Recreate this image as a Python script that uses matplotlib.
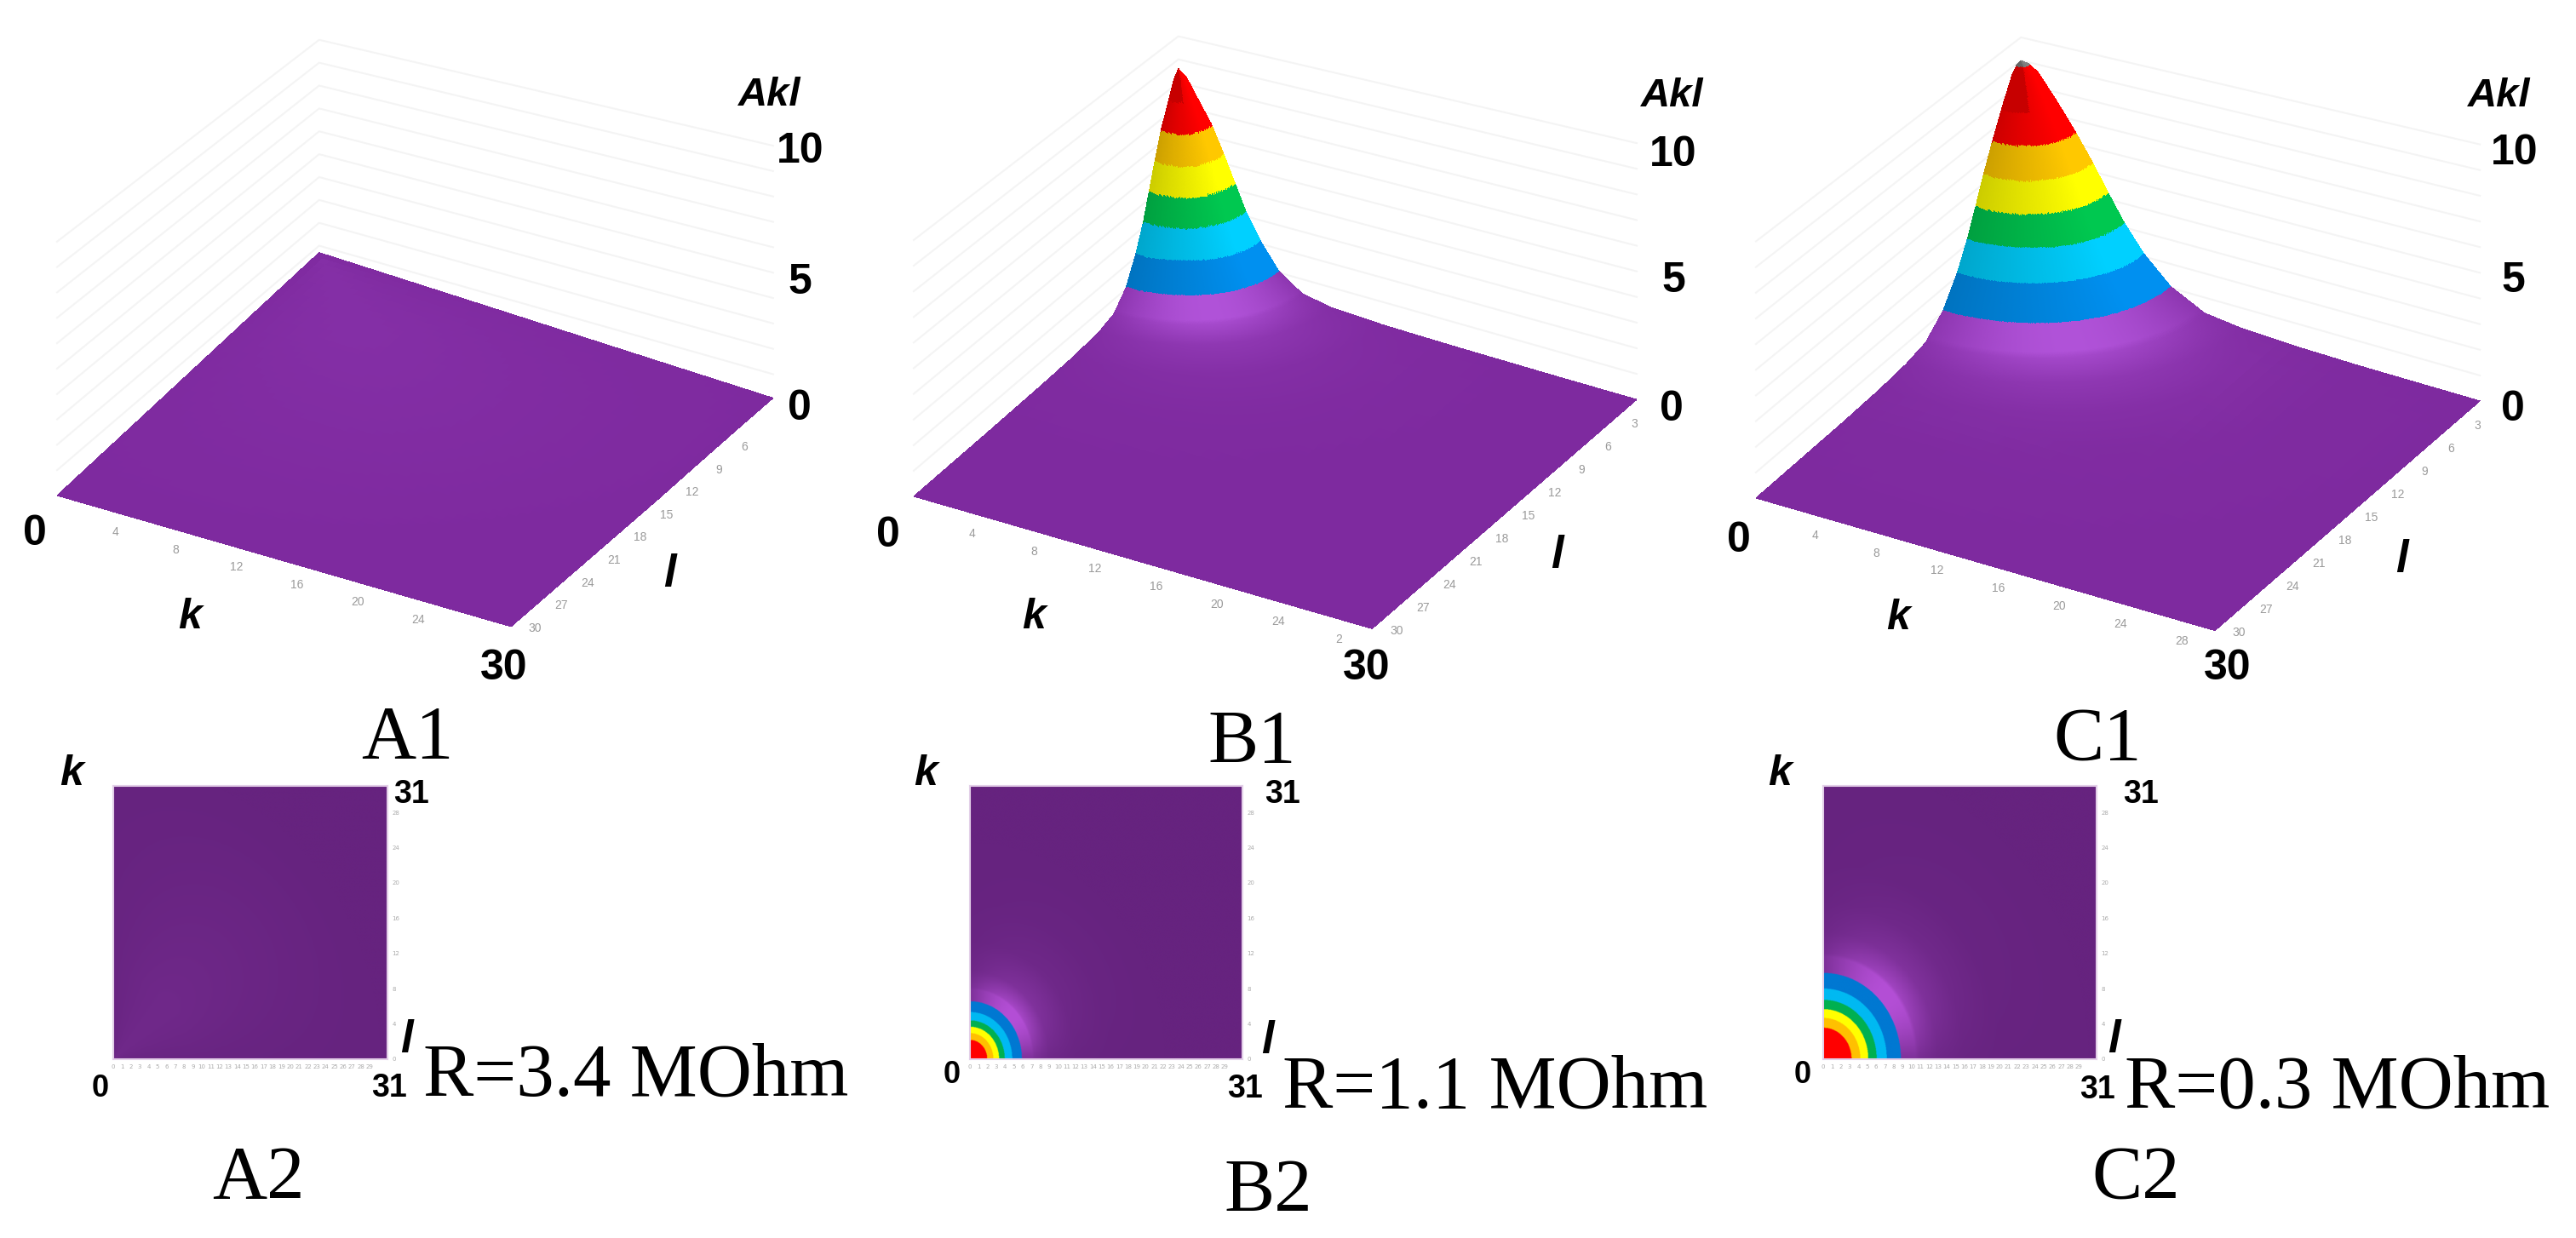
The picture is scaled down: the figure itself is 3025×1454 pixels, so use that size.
#!/usr/bin/env python
"""
Akl surfaces and top views for three resistance values
"""
import numpy as np
import matplotlib
matplotlib.use('Agg')
import matplotlib.pyplot as plt
from matplotlib.colors import to_rgb
from mpl_toolkits.mplot3d import proj3d

W, H = 3025, 1454
SANS = 'Liberation Sans'
SERIF = 'Liberation Serif'

# radial profile of Akl (radius in cells, height in Akl)
radius_a = [0, 10, 20, 30, 45]
height_a = [0.70, 0.47, 0.23, 0.0, 0.0]
radius_b = [0, 0.5, 1, 1.95, 2.65, 3.3, 3.95, 4.8, 5.9, 7.3, 9, 12, 16, 22, 45]
height_b = [8.6, 8.3, 7.7, 6.6, 5.5, 4.4, 3.3, 2.2, 1.1, 0.40, 0.17, 0.06, 0.02, 0.0, 0.0]
radius_c = [0, 0.5, 1, 2, 3.2, 4.2, 5.1, 6.05, 7.2, 8.8, 10.8, 13, 16, 20, 30, 45]
height_c = [9.0, 8.95, 8.7, 7.8, 6.6, 5.5, 4.4, 3.3, 2.2, 1.1, 0.37, 0.17, 0.07, 0.02, 0.0, 0.0]

# colour bands, lowest first
band_levels = [1.1, 2.2, 3.3, 4.4, 5.5, 6.6, 8.93]
colors_surface = ['#0090f0', '#00d0ff', '#00c850', '#ffff00', '#ffc800', '#ff0000', '#808080']
colors_top = ['#0078d2', '#00b9f2', '#00b050', '#ffff00', '#ffc000', '#ff0000', '#ff0000']

panel_top = ['A1', 'B1', 'C1']
panel_bottom = ['A2', 'B2', 'C2']
resistance = ['R=3.4 MOhm', 'R=1.1 MOhm', 'R=0.3 MOhm']
halo_strength = [0.12, 1.0, 1.0]

k_ticks = [['4', '8', '12', '16', '20', '24', ''], ['4', '8', '12', '16', '20', '24', '2'],
           ['4', '8', '12', '16', '20', '24', '28']]
k_tick_pos = [4, 8, 12, 16, 20, 24, 28]
l_ticks = [[6, 9, 12, 15, 18, 21, 24, 27, 30],
           [3, 6, 9, 12, 15, 18, 21, 24, 27, 30],
           [3, 6, 9, 12, 15, 18, 21, 24, 27, 30]]
wall_levels = [1, 2, 3, 4, 5, 6, 7, 8, 9, 10]


def label(fig, x, y, s, size, family=SANS, **kw):
    fig.text(x / W, 1 - y / H, s, fontsize=size, family=family,
             ha='center', va='center', **kw)


def surface(l, k, radius, height):
    r = np.sqrt(l ** 2 + (0.9 * k) ** 2)
    return np.interp(r, radius, height)


def diagonal(l, k):
    """0 along the plate edges through the peak, 1 on the diagonal"""
    return 2 * l * k / np.maximum(l ** 2 + k ** 2, 1e-6)


def paint(z, l, k, base, halo, strength, palette):
    """Band colours by height, purple gets lighter close to the blue ring"""
    base = np.array(to_rgb(base))
    halo = np.array(to_rgb(halo))
    t = np.clip(z / 0.5, 0, 1) * strength * (0.3 + 0.7 * diagonal(l, k))
    rgb = base + t[..., None] * (halo - base)
    for i in range(len(band_levels)):
        rgb[z >= band_levels[i]] = to_rgb(palette[i])
    return rgb


def scene_px(ax, l, k, z=0):
    x, y, _ = proj3d.proj_transform(l, k, z, ax.get_proj())
    return ax.transData.transform((x, y))


def place_scene(ax, left, right):
    """Move and scale the 3D axes so the plate corners land on left / right"""
    left = np.array([left[0], H - left[1]], float)
    right = np.array([right[0], H - right[1]], float)
    size = 1200.0
    ax.set_position([0.2, 0.1, size / W, size / H])
    a = scene_px(ax, 30, 0)
    b = scene_px(ax, 0, 30)
    size *= np.linalg.norm(right - left) / np.linalg.norm(b - a)
    ax.set_position([0.2, 0.1, size / W, size / H])
    a = scene_px(ax, 30, 0)
    x0 = 0.2 * W + left[0] - a[0]
    y0 = 0.1 * H + left[1] - a[1]
    ax.set_position([x0 / W, y0 / H, size / W, size / H])


def draw_scene(fig, i, radius, height, left, right):
    ax = fig.add_axes([0, 0, 0.5, 0.5], projection='3d', computed_zorder=False)
    ax.set_proj_type('ortho')
    ax.view_init(elev=30, azim=30)
    ax.set_box_aspect((1, 1, 0.504))
    ax.set_xlim(0, 30)
    ax.set_ylim(0, 30)
    ax.set_zlim(0, 10)
    ax.set_axis_off()
    ax.patch.set_alpha(0)
    place_scene(ax, left, right)

    # back walls, the lines open up a bit towards the plate corners
    for z in wall_levels:
        ax.plot([30, 0, 0], [0, 0, 30], [1.11 * z, z, 1.11 * z], color='#f4f4f4', lw=1.5, zorder=1)

    # fine near the peak, coarse on the flat part
    if i == 0:
        grid = np.arange(0, 30.5, 0.5)
    else:
        grid = np.concatenate([np.arange(0, 11, 0.05), np.arange(11, 16, 0.1), np.arange(16, 30.5, 1.0)])
    L, K = np.meshgrid(grid, grid)
    z_grid = surface(L, K, radius, height)
    rgb = paint(z_grid, L, K, '#7e2a9f', '#b052d8', halo_strength[i], colors_surface)

    # light comes from the right, the left flank of the hill is darker
    side = np.clip(1.3 * np.arctan2(K, L) / (np.pi / 2), 0, 1)
    light = np.where(z_grid >= band_levels[0], 0.8 + 0.2 * side, 1.0)
    light = np.where((z_grid > 7.6) & (side < 0.6), 0.78, light)
    rgb = np.clip(rgb * light[..., None], 0, 1)
    ax.plot_surface(L, K, z_grid, rstride=1, cstride=1, facecolors=rgb[:-1, :-1], shade=False,
                    antialiased=False, linewidth=0, zorder=2)

    for pos, s in zip(k_tick_pos, k_ticks[i]):
        x, y = scene_px(ax, 32, pos + 1)
        fig.text(x / W, y / H, s, fontsize=10, color='#9a9a9a', family=SANS, ha='center', va='center')
    for t in l_ticks[i]:
        x, y = scene_px(ax, t - 0.5, 31.3)
        fig.text(x / W, y / H, str(t), fontsize=10, color='#9a9a9a', family=SANS, ha='center', va='center')


def draw_top_view(fig, i, radius, height, x0, x1):
    y0, y1 = 923, 1244
    ax = fig.add_axes([x0 / W, 1 - y1 / H, (x1 - x0) / W, (y1 - y0) / H])
    cells = np.linspace(0, 31, 700)
    L, K = np.meshgrid(cells, cells)
    z_grid = surface(L, K, radius, height)
    ax.imshow(paint(z_grid, L, K, '#66237f', '#b44fd6', halo_strength[i], colors_top), origin='lower',
              extent=(0, 31, 0, 31), aspect='auto', interpolation='bilinear')
    for side in ax.spines.values():
        side.set_color('#e3cfe8')
        side.set_linewidth(1.5)
    ax.set_xticks(np.arange(0, 30))
    ax.set_xticklabels([str(v) for v in range(30)], fontsize=5, color='#aaaaaa')
    ax.yaxis.tick_right()
    ax.set_yticks(np.arange(0, 29, 4))
    ax.set_yticklabels([str(v) for v in range(0, 29, 4)], fontsize=5, color='#aaaaaa')
    ax.tick_params(length=0, pad=4)


def main():
    fig = plt.figure(figsize=(W / 100, H / 100), dpi=100, facecolor='white')

    profiles = [(radius_a, height_a), (radius_b, height_b), (radius_c, height_c)]
    corners = [((67, 582), (907, 463)), ((1073, 583), (1922, 469)), ((2062, 585), (2912, 470))]
    squares = [(133, 455), (1139, 1459), (2141, 2462)]

    for i, (radius, height) in enumerate(profiles):
        draw_scene(fig, i, radius, height, corners[i][0], corners[i][1])
        draw_top_view(fig, i, radius, height, squares[i][0], squares[i][1])

    # big axis labels of the surfaces
    big_labels = [
        [(41, 627), (592, 785), (223, 725), (786, 675), (940, 178), (939, 332), (939, 480), (904, 112)],
        [(1043, 629), (1605, 785), (1214, 725), (1828, 653), (1965, 182), (1965, 330), (1963, 481), (1964, 113)],
        [(2042, 635), (2616, 785), (2229, 726), (2820, 658), (2953, 180), (2951, 330), (2951, 481), (2935, 113)],
    ]
    for p in big_labels:
        label(fig, p[0][0], p[0][1], '0', 36, fontweight='bold')
        label(fig, p[1][0], p[1][1], '30', 36, fontweight='bold')
        label(fig, p[2][0], p[2][1], 'k', 36, fontweight='bold', style='italic')
        label(fig, p[3][0], p[3][1], 'l', 38, fontweight='bold', style='italic')
        label(fig, p[4][0], p[4][1], '10', 36, fontweight='bold')
        label(fig, p[5][0], p[5][1], '5', 36, fontweight='bold')
        label(fig, p[6][0], p[6][1], '0', 36, fontweight='bold')
        label(fig, p[7][0], p[7][1], 'Akl', 34, fontweight='bold', style='italic')

    # labels of the top views
    small_labels = [
        [(118, 1278), (457, 1278), (483, 933), (477, 1222), (84, 909)],
        [(1118, 1263), (1462, 1279), (1506, 933), (1488, 1223), (1087, 909)],
        [(2117, 1263), (2463, 1280), (2514, 933), (2482, 1222), (2090, 909)],
    ]
    for p in small_labels:
        label(fig, p[0][0], p[0][1], '0', 26, fontweight='bold')
        label(fig, p[1][0], p[1][1], '31', 27, fontweight='bold')
        label(fig, p[2][0], p[2][1], '31', 27, fontweight='bold')
        label(fig, p[3][0], p[3][1], 'l', 38, fontweight='bold', style='italic')
        label(fig, p[4][0], p[4][1], 'k', 36, fontweight='bold', style='italic')

    for x, y, s in zip([478, 1470, 2463], [868, 873, 870], panel_top):
        label(fig, x, y, s, 64, family=SERIF)
    for x, y, s in zip([303, 1489, 2508], [1385, 1400, 1385], panel_bottom):
        label(fig, x, y, s, 64, family=SERIF)
    for x, y, s in zip([747, 1756, 2745], [1265, 1279, 1279], resistance):
        label(fig, x, y, s, 64, family=SERIF)

    fig.savefig('out.png', dpi=100)


if __name__ == "__main__":
    main()
